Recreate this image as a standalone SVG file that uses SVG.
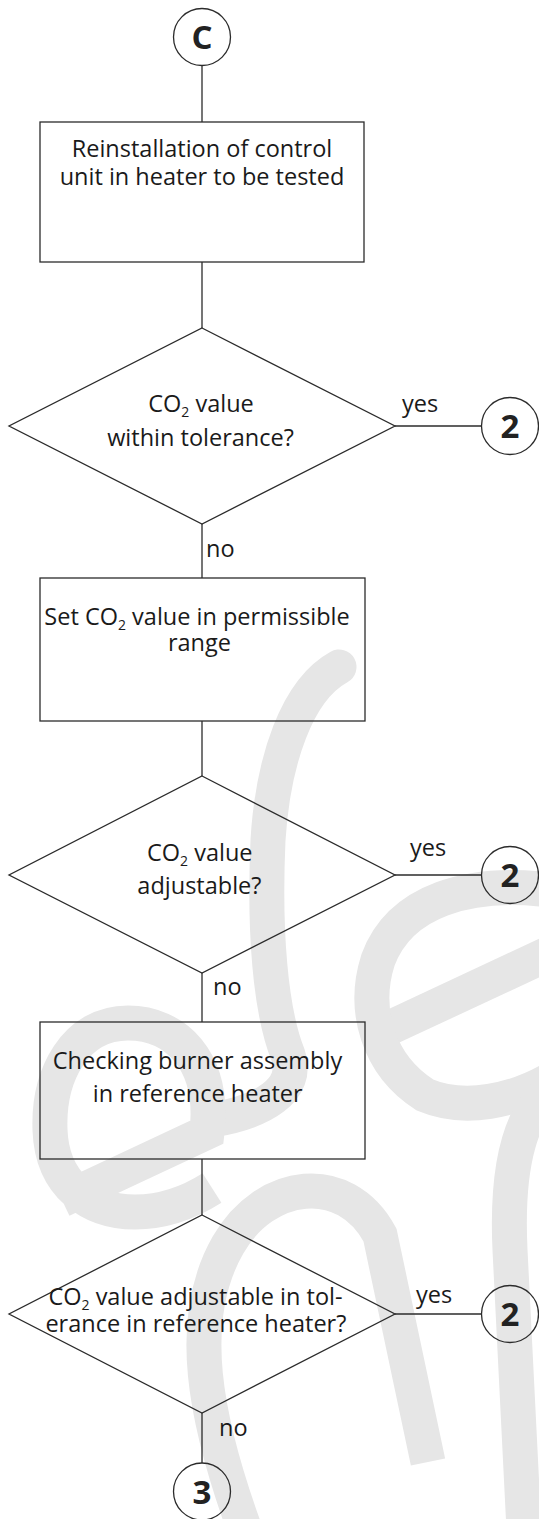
<svg xmlns="http://www.w3.org/2000/svg" width="539" height="1519" viewBox="0 0 539 1519">
<style>
.shape-o{fill:none;stroke:#2b2b2b;stroke-width:1.3}
.conn{fill:none;stroke:#2b2b2b;stroke-width:1.3}
.wm{fill:none;stroke:#e6e6e6;stroke-width:35}
.t{font-family:"Open Sans","Noto Sans",sans-serif;font-size:23.5px;fill:#1a1a1a;text-anchor:middle}
.lbl{font-family:"Open Sans","Noto Sans",sans-serif;font-size:23.5px;fill:#1a1a1a}
.sub{font-size:14px}
.cn{font-family:"Open Sans","Noto Sans",sans-serif;font-size:33px;font-weight:bold;fill:#222;text-anchor:middle}
</style>
<rect x="0" y="0" width="539" height="1519" fill="#fff"/>
<g id="watermark">
<path class="wm" stroke-linecap="round" d="M339 667 C297 690 273 760 268 840 C264 930 270 1010 288 1055 C300 1090 262 1112 212 1120"/>
<path class="wm" d="M62 1200 L207 1132 C215 1060 175 1023 128 1023 C75 1023 48 1075 50 1130 C52 1185 90 1212 135 1212 C165 1212 190 1202 212 1188"/>
<path class="wm" d="M385 1030 L550 953"/>
<path class="wm" d="M550 890 C470 880 400 900 378 960 C362 1010 378 1065 425 1095 C465 1112 515 1100 550 1080"/>
<path class="wm" d="M245 1530 C205 1420 185 1320 228 1245 C265 1180 345 1170 380 1235 L428 1462"/>
<path class="wm" d="M560 1085 C520 1105 506 1165 510 1250 L524 1530"/>
</g>
<g id="connectors">
<line class="conn" x1="202" y1="66" x2="202" y2="122"/>
<line class="conn" x1="202" y1="262" x2="202" y2="328"/>
<line class="conn" x1="395" y1="426" x2="481" y2="426"/>
<line class="conn" x1="202" y1="524" x2="202" y2="578"/>
<line class="conn" x1="202" y1="721" x2="202" y2="776"/>
<line class="conn" x1="395" y1="875" x2="481" y2="875"/>
<line class="conn" x1="202" y1="973" x2="202" y2="1022"/>
<line class="conn" x1="202" y1="1159" x2="202" y2="1215"/>
<line class="conn" x1="395" y1="1314" x2="481" y2="1314"/>
<line class="conn" x1="202" y1="1413" x2="202" y2="1463"/>
<text class="lbl" x="402" y="412">yes</text>
<text class="lbl" x="206" y="557">no</text>
<text class="lbl" x="410" y="856">yes</text>
<text class="lbl" x="213" y="995">no</text>
<text class="lbl" x="416" y="1303">yes</text>
<text class="lbl" x="219" y="1436">no</text>
</g>
<g id="start-C">
<circle class="shape-o" cx="202" cy="37" r="28.5"/>
<text class="cn" x="202" y="49">C</text>
</g>
<g id="box-reinstall">
<rect class="shape-o" x="40" y="122" width="324" height="140"/>
<text class="t" x="202" y="157">Reinstallation of control</text>
<text class="t" x="202" y="185">unit in heater to be tested</text>
</g>
<g id="dec-tolerance">
<polygon class="shape-o" points="202,328 395,426 202,524 9,426"/>
<text class="t" x="201" y="412">CO<tspan class="sub" dy="5">2</tspan><tspan dy="-5"> value</tspan></text>
<text class="t" x="200.5" y="445.5">within tolerance?</text>
</g>
<g id="end-2a">
<circle class="shape-o" cx="510" cy="426" r="28.5"/>
<text class="cn" x="510" y="438">2</text>
</g>
<g id="box-set">
<rect class="shape-o" x="40" y="578" width="325" height="143"/>
<text class="t" x="197" y="625">Set CO<tspan class="sub" dy="5">2</tspan><tspan dy="-5"> value in permissible</tspan></text>
<text class="t" x="199.4" y="651">range</text>
</g>
<g id="dec-adjustable">
<polygon class="shape-o" points="202,776 395,875 202,973 9,875"/>
<text class="t" x="199.8" y="861">CO<tspan class="sub" dy="5">2</tspan><tspan dy="-5"> value</tspan></text>
<text class="t" x="199.4" y="894">adjustable?</text>
</g>
<g id="end-2b">
<circle class="shape-o" cx="510" cy="875" r="28.5"/>
<text class="cn" x="510" y="887">2</text>
</g>
<g id="box-check">
<rect class="shape-o" x="40" y="1022" width="325" height="137"/>
<text class="t" x="197.5" y="1068.6">Checking burner assembly</text>
<text class="t" x="197.7" y="1102">in reference heater</text>
</g>
<g id="dec-reference">
<polygon class="shape-o" points="202,1215 395,1314 202,1413 9,1314"/>
<text class="t" x="195.5" y="1305">CO<tspan class="sub" dy="5">2</tspan><tspan dy="-5"> value adjustable in tol-</tspan></text>
<text class="t" x="195.9" y="1331.7">erance in reference heater?</text>
</g>
<g id="end-2c">
<circle class="shape-o" cx="510" cy="1314" r="28.5"/>
<text class="cn" x="510" y="1326">2</text>
</g>
<g id="end-3">
<circle class="shape-o" cx="202" cy="1491.5" r="28.5"/>
<text class="cn" x="202" y="1503.5">3</text>
</g>
</svg>
